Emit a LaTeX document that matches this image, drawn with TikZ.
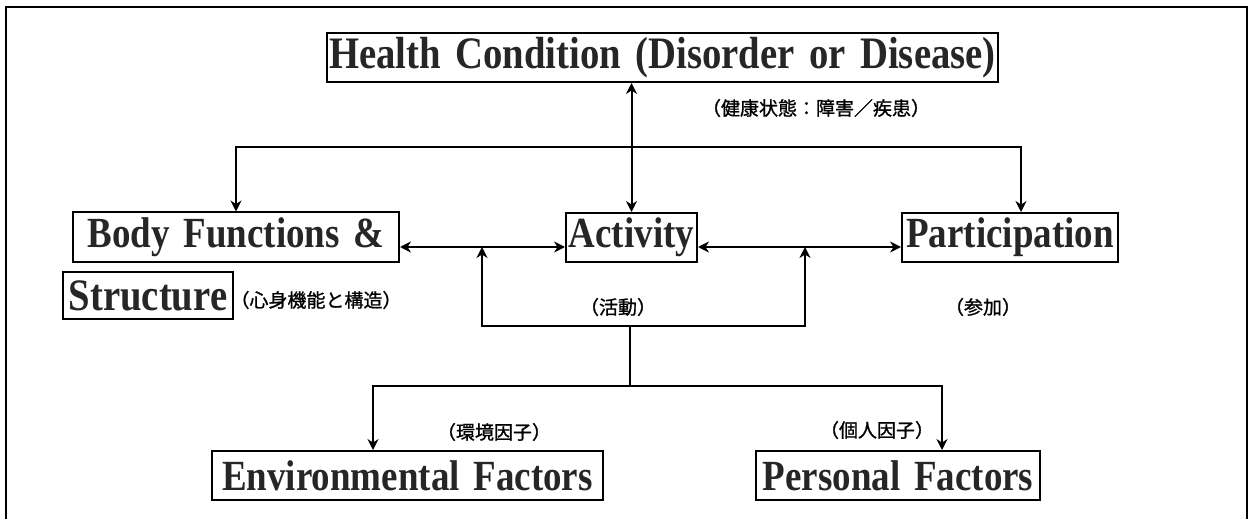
\documentclass[tikz,border=0pt]{standalone}
\usepackage{fontspec}
\setmainfont{Liberation Serif}[FakeStretch=0.86, WordSpace=1.5]
\newfontfamily\jp{Noto Sans CJK JP}[FakeBold=1]
\usetikzlibrary{arrows.meta}
\tikzstyle{Box}=[draw, line width=1pt, inner xsep=1pt, inner ysep=0pt, minimum height=24.5pt, text=black!85, font=\fontsize{21.5}{21.5}\selectfont\bfseries]
\tikzstyle{Jp}=[inner sep=0pt, font=\jp\fontsize{9.5}{10}\selectfont]
\tikzstyle{Link}=[line width=1pt, >={Stealth[length=5.5pt,width=5.5pt]}]

\begin{document}
\begin{tikzpicture}[x=0.5pt, y=-0.5pt]
  \useasboundingbox (0,0) rectangle (1254,519);
  \draw[line width=0.6pt] (6,519) -- (6,7) -- (1247,7) -- (1247,519);

  % boxes
  \node[Box, minimum width=333.5pt, font=\fontsize{22.5}{22.5}\selectfont\bfseries] (health) at (662.5,57.5) {Health Condition (Disorder or Disease)};
  \node[Box, minimum width=163pt] (body) at (236,237) {Body Functions \&};
  \node[Box, minimum width=85pt, minimum height=23.5pt, font=\fontsize{22.5}{22.5}\selectfont\bfseries] (struct) at (148,295.5) {Structure};
  \node[Box, minimum width=65.5pt] (act) at (631.5,237.5) {Activity};
  \node[Box, minimum width=108pt] (part) at (1010,237.5) {Participation};
  \node[Box, minimum width=195.5pt] (env) at (407.5,475.5) {Environmental Factors};
  \node[Box, minimum width=142pt] (pers) at (898,475.5) {Personal Factors};

  % japanese labels
  \node[Jp] (healthjp) at (816,108) {（健康状態：障害／疾患）};
  \node[Jp] (bodyjp) at (316,300) {（心身機能と構造）};
  \node[Jp] (actjp) at (618,307) {（活動）};
  \node[Jp] (partjp) at (983,307) {（参加）};
  \node[Jp] (envjp) at (494,432) {（環境因子）};
  \node[Jp] (persjp) at (877,430) {（個人因子）};

  % junctions
  \coordinate (tl) at (236,147);
  \coordinate (tr) at (1021,147);
  \coordinate (jl) at (482,247);
  \coordinate (jr) at (805,247);
  \coordinate (bl) at (482,326);
  \coordinate (br) at (805,326);
  \coordinate (mid) at (630,326);
  \coordinate (dm) at (630,386);
  \coordinate (dl) at (373,386);
  \coordinate (dr) at (942,386);

  % connectors
  \draw[Link, <->] (act.north |- health.south) -- (act.north);
  \draw[Link, <->] (tl |- body.north) -- (tl) -- (tr) -- (tr |- part.north);
  \draw[Link, <->] (jl -| body.east) -- (jl -| act.west);
  \draw[Link, <->] (jr -| act.east) -- (jr -| part.west);
  \draw[Link, <->] (jl) -- (bl) -- (br) -- (jr);
  \draw[Link] (mid) -- (dm);
  \draw[Link, <->] (dl |- env.north) -- (dl) -- (dr) -- (dr |- pers.north);
\end{tikzpicture}
\end{document}
